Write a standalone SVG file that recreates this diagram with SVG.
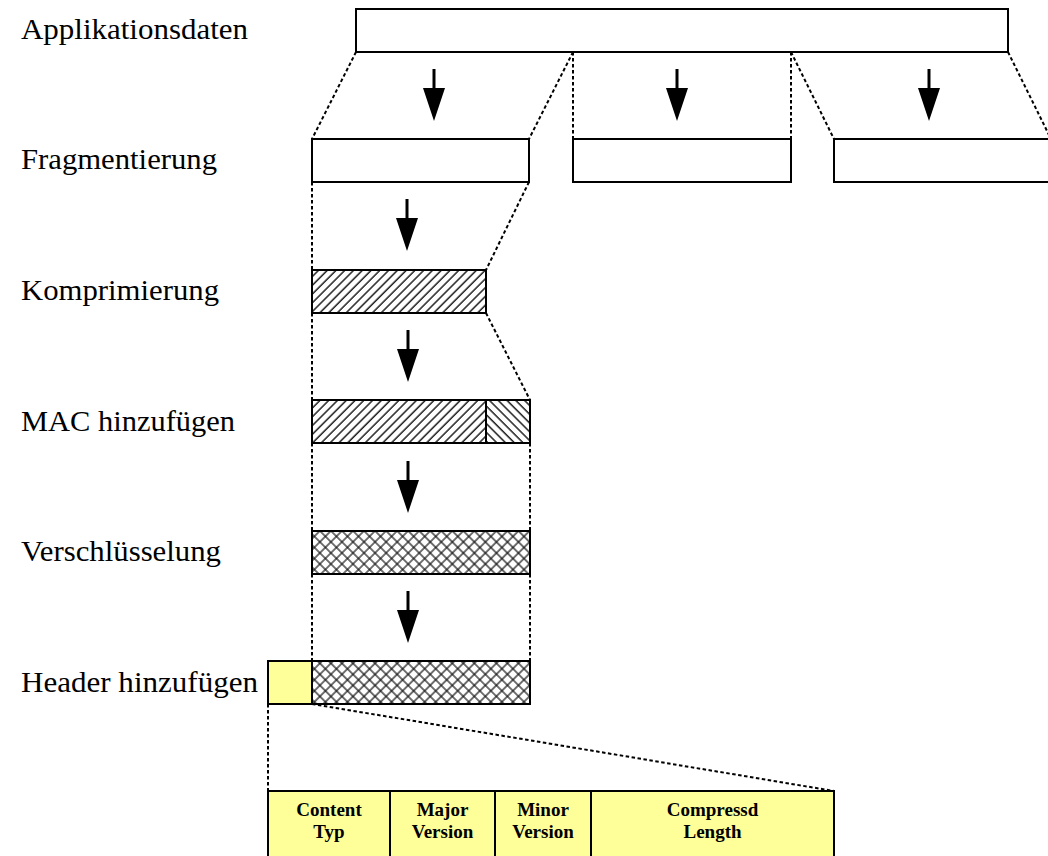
<svg xmlns="http://www.w3.org/2000/svg" xmlns:xlink="http://www.w3.org/1999/xlink" width="1048" height="856" viewBox="0 0 1048 856">
<style>
.box{stroke:#000;stroke-width:2;fill:#fff}
.yel{stroke:#000;stroke-width:2;fill:#FFFF99}
.dot{stroke:#000;stroke-width:2;stroke-dasharray:3.5 2.5;fill:none}
.lbl{font-family:"Liberation Serif","Times New Roman",serif;font-size:29px;fill:#000}
.cell{font-family:"Liberation Serif","Times New Roman",serif;font-size:19px;font-weight:bold;fill:#000;text-anchor:middle}
</style>
<defs>
<pattern id="fwd" patternUnits="userSpaceOnUse" width="6.2" height="6.2" patternTransform="rotate(45)">
<rect width="6.2" height="6.2" fill="#fff"/>
<line x1="1" y1="0" x2="1" y2="6.2" stroke="#111" stroke-width="1.4"/>
</pattern>
<pattern id="bwd" patternUnits="userSpaceOnUse" width="6.2" height="6.2" patternTransform="rotate(-45)">
<rect width="6.2" height="6.2" fill="#fff"/>
<line x1="1" y1="0" x2="1" y2="6.2" stroke="#111" stroke-width="1.4"/>
</pattern>
<pattern id="cross" patternUnits="userSpaceOnUse" width="7.8" height="7.8" patternTransform="rotate(45)">
<rect width="7.8" height="7.8" fill="#fff"/>
<line x1="1" y1="0" x2="1" y2="7.8" stroke="#111" stroke-width="1.2"/>
<line x1="0" y1="1" x2="7.8" y2="1" stroke="#111" stroke-width="1.2"/>
</pattern>
<g id="arrow">
<line x1="0" y1="0" x2="0" y2="21" stroke="#000" stroke-width="3"/>
<polygon points="-11,19 11,19 0,52" fill="#000"/>
</g>
</defs>
<rect width="1048" height="856" fill="#fff"/>

<g id="labels">
<text class="lbl" x="21" y="39" textLength="227" lengthAdjust="spacingAndGlyphs">Applikationsdaten</text>
<text class="lbl" x="21" y="169" textLength="196" lengthAdjust="spacingAndGlyphs">Fragmentierung</text>
<text class="lbl" x="21" y="300" textLength="198" lengthAdjust="spacingAndGlyphs">Komprimierung</text>
<text class="lbl" x="21" y="431" textLength="214" lengthAdjust="spacingAndGlyphs">MAC hinzufügen</text>
<text class="lbl" x="21" y="561" textLength="200" lengthAdjust="spacingAndGlyphs">Verschlüsselung</text>
<text class="lbl" x="21" y="692" textLength="237" lengthAdjust="spacingAndGlyphs">Header hinzufügen</text>
</g>

<g id="connectors">
<line class="dot" x1="356" y1="52" x2="312" y2="139"/>
<line class="dot" x1="573" y1="52" x2="529" y2="139"/>
<line class="dot" x1="573" y1="52" x2="573" y2="139"/>
<line class="dot" x1="791" y1="52" x2="791" y2="139"/>
<line class="dot" x1="791" y1="52" x2="834" y2="139"/>
<line class="dot" x1="1008" y1="52" x2="1051" y2="139"/>
<line class="dot" x1="312" y1="182" x2="312" y2="270"/>
<line class="dot" x1="529" y1="182" x2="486" y2="270"/>
<line class="dot" x1="312" y1="313" x2="312" y2="400"/>
<line class="dot" x1="486" y1="313" x2="530" y2="400"/>
<line class="dot" x1="312" y1="443" x2="312" y2="531"/>
<line class="dot" x1="530" y1="443" x2="530" y2="531"/>
<line class="dot" x1="312" y1="574" x2="312" y2="661"/>
<line class="dot" x1="530" y1="574" x2="530" y2="661"/>
<line class="dot" x1="268" y1="704" x2="268" y2="791"/>
<line class="dot" x1="312" y1="704" x2="834" y2="791"/>
<use xlink:href="#arrow" x="434" y="69"/>
<use xlink:href="#arrow" x="677" y="69"/>
<use xlink:href="#arrow" x="929" y="69"/>
<use xlink:href="#arrow" x="407" y="199"/>
<use xlink:href="#arrow" x="408" y="330"/>
<use xlink:href="#arrow" x="408" y="461"/>
<use xlink:href="#arrow" x="408" y="591"/>
</g>

<g id="appdata"><rect class="box" x="356" y="9" width="652" height="43"/></g>
<g id="frag1"><rect class="box" x="312" y="139" width="217" height="43"/></g>
<g id="frag2"><rect class="box" x="573" y="139" width="218" height="43"/></g>
<g id="frag3"><rect class="box" x="834" y="139" width="230" height="43"/></g>
<g id="compressed"><rect class="box" x="312" y="270" width="174" height="43" style="fill:url(#fwd)"/></g>
<g id="mac">
<rect class="box" x="312" y="400" width="174" height="43" style="fill:url(#fwd)"/>
<rect class="box" x="486" y="400" width="44" height="43" style="fill:url(#bwd)"/>
</g>
<g id="encrypted"><rect class="box" x="312" y="531" width="218" height="43" style="fill:url(#cross)"/></g>
<g id="header">
<rect class="yel" x="268" y="661" width="44" height="43"/>
<rect class="box" x="312" y="661" width="218" height="43" style="fill:url(#cross)"/>
</g>
<g id="headerfields">
<rect class="yel" x="268" y="791" width="566" height="80"/>
<line x1="390" y1="791" x2="390" y2="860" stroke="#000" stroke-width="2"/>
<line x1="495" y1="791" x2="495" y2="860" stroke="#000" stroke-width="2"/>
<line x1="591" y1="791" x2="591" y2="860" stroke="#000" stroke-width="2"/>
<text class="cell" x="329" y="816">Content</text>
<text class="cell" x="329" y="838">Typ</text>
<text class="cell" x="442.5" y="816">Major</text>
<text class="cell" x="442.5" y="838">Version</text>
<text class="cell" x="543" y="816">Minor</text>
<text class="cell" x="543" y="838">Version</text>
<text class="cell" x="712.5" y="816">Compressd</text>
<text class="cell" x="712.5" y="838">Length</text>
</g>
</svg>
